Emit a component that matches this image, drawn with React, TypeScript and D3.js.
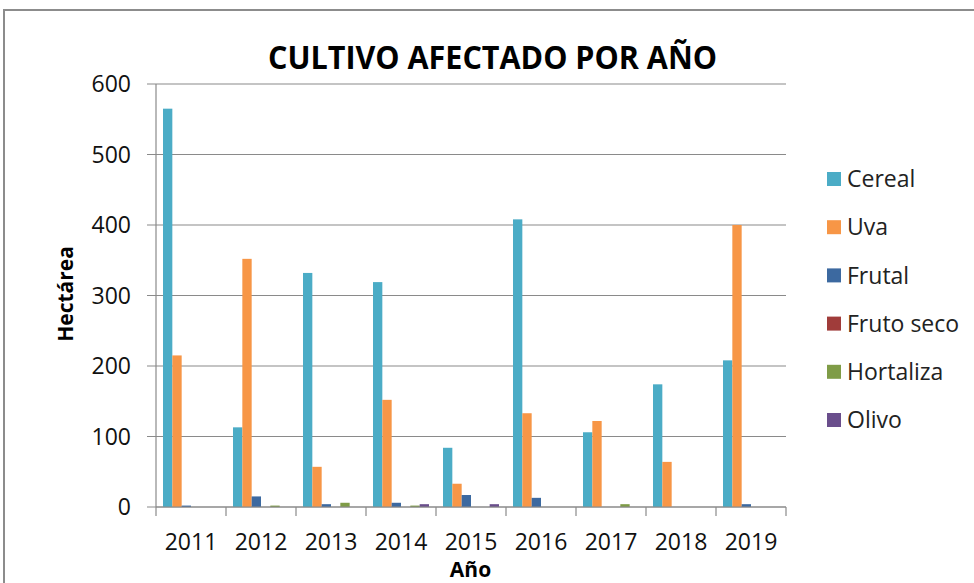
import React, { useRef, useEffect } from "react";
import * as d3 from "d3";

const years = ["2011", "2012", "2013", "2014", "2015", "2016", "2017", "2018", "2019"];
const seriesNames = ["Cereal", "Uva", "Frutal", "Fruto seco", "Hortaliza", "Olivo"];
const cereal = [565, 113, 332, 319, 84, 408, 106, 174, 208];
const uva = [215, 352, 57, 152, 33, 133, 122, 64, 400];
const frutal = [2, 15, 4, 6, 17, 13, 0, 0, 4];
const frutoSeco = [0, 0, 0, 0, 0, 0, 0, 0, 0];
const hortaliza = [0, 2, 6, 2, 0, 0, 4, 0, 0];
const olivo = [0, 0, 0, 4, 4, 0, 0, 0, 0];
const yTicks = [0, 100, 200, 300, 400, 500, 600];
const colors = ["#4bacc6", "#f79646", "#3c69a0", "#a03c3a", "#7f9c47", "#6a4e8c"];

const App = () => {
  const svgRef = useRef<SVGSVGElement>(null);

  useEffect(() => {
    const svg = d3.select(svgRef.current);
    svg.selectAll("*").remove();

    const W = 974;
    const H = 583;
    const font = "Open Sans, Noto Sans, sans-serif";
    const plot = { left: 156, right: 786, top: 84, bottom: 507 };
    const values = [cereal, uva, frutal, frutoSeco, hortaliza, olivo];

    // outer chart frame
    svg.append("rect").attr("width", W).attr("height", H).attr("fill", "#fff");
    svg
      .append("rect")
      .attr("x", 4)
      .attr("y", 10)
      .attr("width", W + 10)
      .attr("height", H + 10)
      .attr("fill", "none")
      .attr("stroke", "#8c8c8c")
      .attr("stroke-width", 2);

    const x = d3.scaleBand().domain(years).range([plot.left, plot.right]);
    const x1 = d3
      .scaleBand()
      .domain(seriesNames)
      .range([0, x.bandwidth()])
      .paddingOuter(0.75);
    const y = d3.scaleLinear().domain([0, 600]).range([plot.bottom, plot.top]);

    // gridlines + y ticks
    const yAxis = svg.append("g");
    yTicks.forEach((t) => {
      yAxis
        .append("line")
        .attr("x1", plot.left - 9)
        .attr("x2", plot.right)
        .attr("y1", y(t))
        .attr("y2", y(t))
        .attr("stroke", "#8a8a8a")
        .attr("stroke-width", 1.2);
      yAxis
        .append("text")
        .attr("x", 131)
        .attr("y", y(t))
        .attr("dy", "0.36em")
        .attr("text-anchor", "end")
        .attr("font-family", font)
        .attr("font-size", 23)
        .attr("fill", "#111")
        .text(t);
    });
    yAxis
      .append("line")
      .attr("x1", plot.left)
      .attr("x2", plot.left)
      .attr("y1", plot.top)
      .attr("y2", plot.bottom)
      .attr("stroke", "#8a8a8a")
      .attr("stroke-width", 1.2);

    // bars
    years.forEach((yr, i) => {
      seriesNames.forEach((s, j) => {
        const v = values[j][i];
        if (v <= 0) return;
        svg
          .append("rect")
          .attr("x", x(yr)! + x1(s)!)
          .attr("y", y(v))
          .attr("width", x1.bandwidth())
          .attr("height", y(0) - y(v))
          .attr("fill", colors[j]);
      });
    });

    // x axis
    const xAxis = svg.append("g");
    xAxis
      .append("line")
      .attr("x1", plot.left)
      .attr("x2", plot.right)
      .attr("y1", plot.bottom)
      .attr("y2", plot.bottom)
      .attr("stroke", "#8a8a8a")
      .attr("stroke-width", 1.2);
    [...years.map((yr) => x(yr)!), plot.right].forEach((px) => {
      xAxis
        .append("line")
        .attr("x1", px)
        .attr("x2", px)
        .attr("y1", plot.bottom)
        .attr("y2", plot.bottom + 9)
        .attr("stroke", "#8a8a8a")
        .attr("stroke-width", 1.2);
    });
    years.forEach((yr) => {
      xAxis
        .append("text")
        .attr("x", x(yr)! + x.bandwidth() / 2)
        .attr("y", 550)
        .attr("text-anchor", "middle")
        .attr("font-family", font)
        .attr("font-size", 23)
        .attr("fill", "#111")
        .text(yr);
    });

    // titles
    svg
      .append("text")
      .attr("x", 492.5)
      .attr("y", 69)
      .attr("text-anchor", "middle")
      .attr("font-family", font)
      .attr("font-weight", "bold")
      .attr("font-size", 33)
      .attr("textLength", 449)
      .attr("lengthAdjust", "spacingAndGlyphs")
      .text("CULTIVO AFECTADO POR AÑO");

    svg
      .append("text")
      .attr("transform", "translate(73,294) rotate(-90)")
      .attr("text-anchor", "middle")
      .attr("font-family", font)
      .attr("font-weight", "bold")
      .attr("font-size", 21)
      .text("Hectárea");

    svg
      .append("text")
      .attr("x", 470.5)
      .attr("y", 577)
      .attr("text-anchor", "middle")
      .attr("font-family", font)
      .attr("font-weight", "bold")
      .attr("font-size", 21)
      .text("Año");

    // legend
    const legend = svg.append("g");
    seriesNames.forEach((s, j) => {
      const cy = 179 + j * 48.2;
      legend
        .append("rect")
        .attr("x", 827)
        .attr("y", cy - 7)
        .attr("width", 14)
        .attr("height", 14)
        .attr("fill", colors[j]);
      legend
        .append("text")
        .attr("x", 847)
        .attr("y", cy)
        .attr("dy", "0.36em")
        .attr("font-family", font)
        .attr("font-size", 23)
        .attr("fill", "#222")
        .text(s);
    });
  }, []);

  return (
    <svg
      ref={svgRef}
      width={974}
      height={583}
      style={{ position: "absolute", left: 0, top: 0 }}
    ></svg>
  );
};

export default App;
